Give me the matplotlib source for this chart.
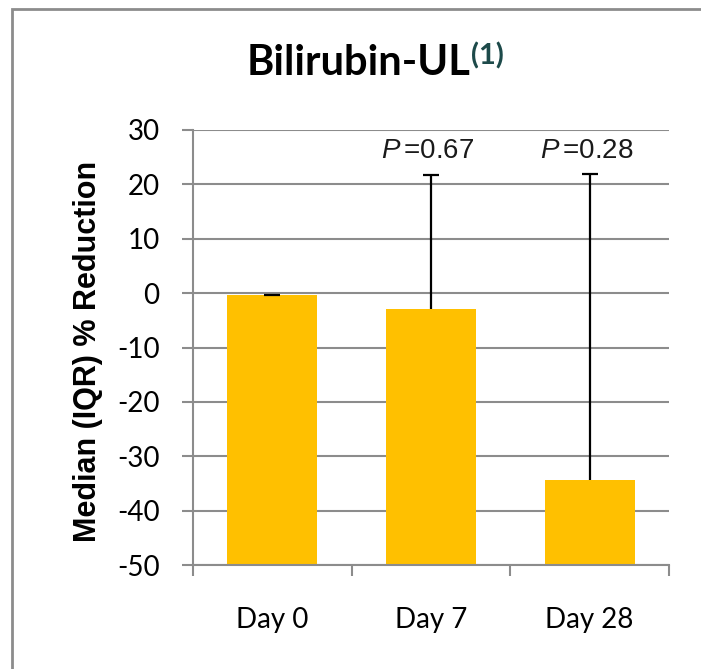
import numpy as np
import matplotlib.pyplot as plt
from matplotlib.patches import Rectangle

# Chart data
days = ['Day 0', 'Day 7', 'Day 28']
median_reduction = [-0.3, -3.0, -34.4]
iqr_upper = [0.0, 24.7, 56.4]
p_labels = [None, '0.67', '0.28']
y_ticks = [30, 20, 10, 0, -10, -20, -30, -40, -50]

plt.rcParams['mathtext.fontset'] = 'custom'
plt.rcParams['mathtext.it'] = 'Liberation Sans:italic'
plt.rcParams['mathtext.rm'] = 'Liberation Sans'

W, H = 701, 669
fig = plt.figure(figsize=(W / 100, H / 100), dpi=100)
ax = fig.add_axes([193 / W, (H - 565) / H, (669 - 193) / W, (565 - 130) / H])

grey = '#8c8c8c'
x = np.arange(len(days))
base = -50
heights = [v - base for v in median_reduction]
ax.bar(x, heights, bottom=base, width=0.567, color='#FFC000', zorder=2)

# upper whisker only, cap at the top
tops = [v + e for v, e in zip(median_reduction, iqr_upper)]
ax.vlines(x, median_reduction, tops, color='black', linewidth=1.6, zorder=3)
ax.plot(x, tops, linestyle='none', marker='_', markersize=11,
        markeredgewidth=1.6, color='black', zorder=3)

for xi, lab in zip(x, p_labels):
    if lab is None:
        continue
    ax.text(xi - 0.02, 26.2, r'$P\,$=' + lab, ha='center', va='center',
            fontsize=20, family='Liberation Sans', color='#1a1a1a')

ax.set_ylim(-50, 30)
ax.set_xlim(-0.5, 2.5)
ax.set_yticks(y_ticks)
ax.set_yticklabels([str(t) for t in y_ticks], family='Lato', fontsize=20)
ax.yaxis.grid(True, color=grey, linewidth=1.5, zorder=0)
ax.set_axisbelow(True)

ax.set_xticks([-0.5, 0.5, 1.5, 2.5])
ax.set_xticklabels([])
ax.set_xticks(x, minor=True)
ax.set_xticklabels(days, minor=True, family='Lato', fontsize=20)
ax.tick_params(axis='x', which='major', length=8, width=1.5, color=grey)
ax.tick_params(axis='x', which='minor', length=0, pad=30)
ax.tick_params(axis='y', length=8, width=1.5, color=grey, pad=16)

for s in ['top', 'right']:
    ax.spines[s].set_visible(False)
for s in ['left', 'bottom']:
    ax.spines[s].set_color(grey)
    ax.spines[s].set_linewidth(1.5)

fig.text(88 / W, (H - 351) / H, 'Median (IQR) % Reduction', rotation=90,
         ha='center', va='center', family='Liberation Sans',
         fontweight='bold', fontsize=22)

fig.text(470 / W, (H - 75) / H, 'Bilirubin-UL', ha='right', va='baseline',
         family='Lato', fontweight='bold', fontsize=30, color='black')
fig.text(471 / W, (H - 64) / H, '(1)', ha='left', va='baseline',
         family='Lato', fontweight='bold', fontsize=21, color='#1d4a4a')

fig.patches.append(Rectangle((12 / W, -0.05), 1.2, (H - 9) / H + 0.05,
                             transform=fig.transFigure, fill=False,
                             edgecolor=grey, linewidth=2))

fig.savefig('out.png', dpi=100)
